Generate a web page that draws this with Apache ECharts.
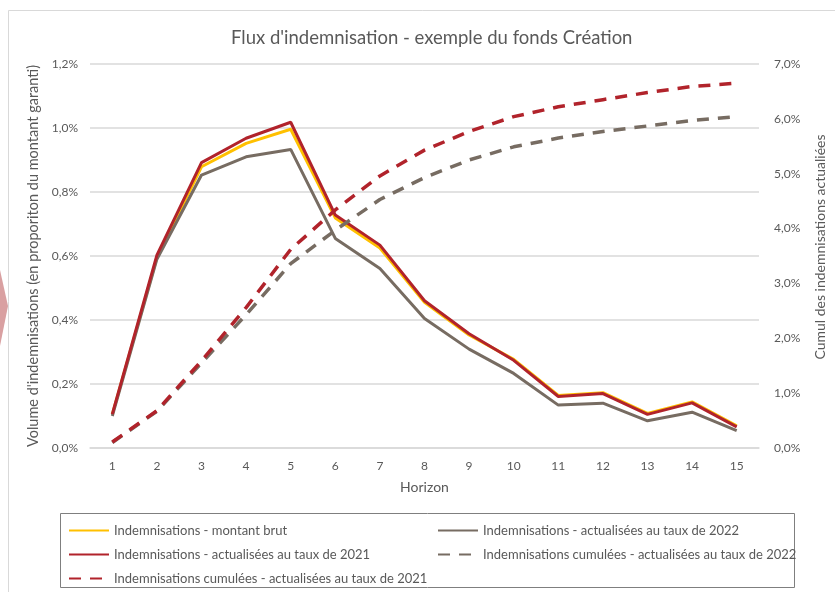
<!DOCTYPE html>
<html>
<head>
<meta charset="utf-8">
<script src="https://cdn.jsdelivr.net/npm/echarts@6/dist/echarts.min.js"></script>
<style>
  html, body { margin: 0; padding: 0; background: #ffffff; }
  #chart { width: 835px; height: 592px; }
</style>
</head>
<body>
<div id="chart"></div>
<script>
// Horizon (années)
const horizon = ['1', '2', '3', '4', '5', '6', '7', '8', '9', '10', '11', '12', '13', '14', '15'];

// Flux annuels, en % du montant garanti (axe de gauche)
const montantBrut = [0.105, 0.595, 0.879, 0.952, 0.996, 0.719, 0.625, 0.455, 0.353, 0.277, 0.164, 0.173, 0.108, 0.144, 0.069];
const actualise2021 = [0.106, 0.603, 0.892, 0.968, 1.018, 0.728, 0.634, 0.460, 0.357, 0.274, 0.161, 0.170, 0.105, 0.141, 0.066];
const actualise2022 = [0.100, 0.590, 0.853, 0.910, 0.933, 0.655, 0.561, 0.405, 0.309, 0.233, 0.134, 0.140, 0.085, 0.112, 0.054];

// Cumuls actualisés, en % (axe de droite)
const cumul2021 = [0.11, 0.68, 1.59, 2.56, 3.62, 4.34, 4.96, 5.43, 5.77, 6.04, 6.22, 6.35, 6.48, 6.59, 6.65];
const cumul2022 = [0.10, 0.67, 1.55, 2.43, 3.36, 3.97, 4.53, 4.93, 5.25, 5.49, 5.65, 5.77, 5.87, 5.97, 6.04];

const FONT = 'Lato';
const TXT = '#595959';
const GRID = '#d9d9d9';
const YELLOW = '#FFC000';
const RED = '#B1232B';
const TAUPE = '#776C62';

const pct = v => v.toFixed(1).replace('.', ',') + '%';

const names = {
  brut: 'Indemnisations - montant brut',
  a22: 'Indemnisations - actualisées au taux de 2022',
  a21: 'Indemnisations - actualisées au taux de 2021',
  c22: 'Indemnisations cumulées - actualisées au taux de 2022',
  c21: 'Indemnisations cumulées - actualisées au taux de 2021'
};

const legendBase = {
  orient: 'vertical', top: 519,
  itemWidth: 40, itemHeight: 14, itemGap: 11,
  // only the line is drawn in the legend keys, no marker
  itemStyle: { color: 'transparent', borderWidth: 0, opacity: 0 },
  textStyle: { color: TXT, fontFamily: FONT, fontSize: 13 }
};

const chart = echarts.init(document.getElementById('chart'), null, { renderer: 'canvas' });
chart.setOption({
  animation: false,
  backgroundColor: '#ffffff',
  textStyle: { fontFamily: FONT },
  title: {
    text: "Flux d'indemnisation - exemple du fonds Création",
    left: 226,
    top: 24,
    textStyle: { color: TXT, fontFamily: FONT, fontSize: 18.5, fontWeight: 'normal' }
  },
  graphic: [
    // cadre du graphique
    { type: 'rect', shape: { x: 8.5, y: 10.5, width: 840, height: 600 },
      style: { fill: 'none', stroke: GRID, lineWidth: 1 }, silent: true, z: -1 },
    // cadre de la légende
    { type: 'rect', shape: { x: 60.5, y: 513.5, width: 734, height: 74 },
      style: { fill: 'none', stroke: '#7f7f7f', lineWidth: 1 }, silent: true },
    // chevron décoratif à gauche
    { type: 'polygon', shape: { points: [[0, 270], [8, 306], [0, 346]] },
      style: { fill: '#D9A0A1' }, silent: true }
  ],
  legend: [
    Object.assign({}, legendBase, { left: 63, data: [names.brut, names.a21, names.c21] }),
    Object.assign({}, legendBase, { left: 432, data: [names.a22, names.c22] })
  ],
  grid: { left: 90, right: 71, top: 64, bottom: 144, containLabel: false },
  xAxis: {
    type: 'category',
    data: horizon,
    boundaryGap: true,
    name: 'Horizon',
    nameLocation: 'middle',
    nameGap: 32,
    nameTextStyle: { color: TXT, fontFamily: FONT, fontSize: 14 },
    axisLine: { lineStyle: { color: GRID, width: 1.5 } },
    axisTick: { show: false },
    axisLabel: { color: TXT, fontFamily: FONT, fontSize: 12, margin: 12 }
  },
  yAxis: [
    {
      type: 'value', min: 0, max: 1.2, interval: 0.2,
      name: "Volume d'indemnisations (en proporiton du montant garanti)",
      nameLocation: 'middle', nameGap: 42,
      nameTextStyle: { color: TXT, fontFamily: FONT, fontSize: 14.5 },
      axisLine: { show: false }, axisTick: { show: false },
      axisLabel: { color: TXT, fontFamily: FONT, fontSize: 12, margin: 12, formatter: pct },
      splitLine: { lineStyle: { color: GRID, width: 1.5 } }
    },
    {
      type: 'value', min: 0, max: 7, interval: 1,
      name: 'Cumul des indemnisations actualiées',
      nameLocation: 'middle', nameGap: 54,
      nameTextStyle: { color: TXT, fontFamily: FONT, fontSize: 14, padding: [0, 0, 0, 18] },
      axisLine: { show: false }, axisTick: { show: false },
      axisLabel: { color: TXT, fontFamily: FONT, fontSize: 12, margin: 15, formatter: pct },
      splitLine: { show: false }
    }
  ],
  series: [
    { name: names.brut, type: 'line', data: montantBrut, yAxisIndex: 0,
      symbol: 'none', color: YELLOW, lineStyle: { color: YELLOW, width: 3 } },
    { name: names.a22, type: 'line', data: actualise2022, yAxisIndex: 0,
      symbol: 'none', color: TAUPE, lineStyle: { color: TAUPE, width: 3 } },
    { name: names.a21, type: 'line', data: actualise2021, yAxisIndex: 0,
      symbol: 'none', color: RED, lineStyle: { color: RED, width: 3 } },
    { name: names.c22, type: 'line', data: cumul2022, yAxisIndex: 1,
      symbol: 'none', color: TAUPE, lineStyle: { color: TAUPE, width: 3.5, type: [12, 9] } },
    { name: names.c21, type: 'line', data: cumul2021, yAxisIndex: 1,
      symbol: 'none', color: RED, lineStyle: { color: RED, width: 3.5, type: [12, 9] } }
  ]
});
</script>
</body>
</html>
